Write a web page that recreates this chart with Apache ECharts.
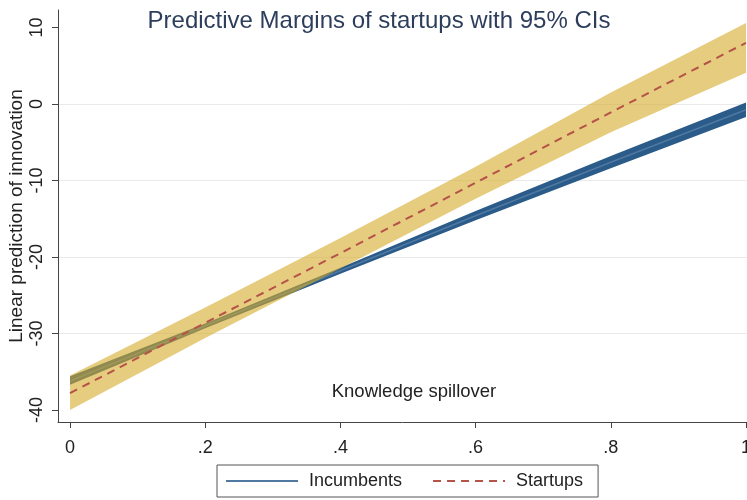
<!DOCTYPE html>
<html>
<head>
<meta charset="utf-8">
<script src="https://cdn.jsdelivr.net/npm/echarts@6/dist/echarts.min.js"></script>
<style>
  html, body { margin: 0; padding: 0; background: #fff; }
  #chart { width: 747px; height: 500px; }
</style>
</head>
<body>
<div id="chart"></div>
<script>
// knowledge spillover values where the margins were evaluated
var xs = [0, 0.2, 0.4, 0.6, 0.8, 1];
var xTicks = [0, 0.2, 0.4, 0.6, 0.8, 1];
var yTicks = [-40, -30, -20, -10, 0, 10];

// startups: prediction + 95% CI
var startups = [-37.8, -28.6, -19.5, -10.3, -1.1, 8.0];
var startupsLo = [-40.0, -30.6, -21.5, -12.4, -3.7, 4.1];
var startupsHi = [-35.5, -26.6, -17.5, -8.2, 1.5, 10.6];

// incumbents: prediction + 95% CI
var incumbents = [-36.2, -29.0, -21.8, -14.6, -7.6, -0.75];
var incumbentsLo = [-36.7, -29.3, -22.2, -15.2, -8.4, -1.7];
var incumbentsHi = [-35.6, -28.7, -21.4, -14.0, -6.8, 0.2];

var FONT = 'Liberation Sans, Arial, sans-serif';

function pairs(vals) {
    return xs.map(function (x, i) { return [x, vals[i]]; });
}

// CI band drawn as one polygon through the axis scales
function band(name, lo, hi, fill, z) {
    return {
        type: 'custom',
        name: name,
        z: z,
        silent: true,
        clip: true,
        data: xs.map(function (x, i) { return [x, lo[i], hi[i]]; }),
        encode: { x: 0, y: [1, 2] },
        renderItem: function (params, api) {
            if (params.dataIndex !== 0) return null;
            var pts = [];
            for (var i = 0; i < xs.length; i++) pts.push(api.coord([xs[i], hi[i]]));
            for (var j = xs.length - 1; j >= 0; j--) pts.push(api.coord([xs[j], lo[j]]));
            return { type: 'polygon', shape: { points: pts }, style: { fill: fill } };
        }
    };
}

var chart = echarts.init(document.getElementById('chart'));
chart.setOption({
    animation: false,
    title: {
        text: 'Predictive Margins of startups with 95% CIs',
        left: 374,
        top: 4,
        textAlign: 'center',
        textStyle: { fontFamily: FONT, fontSize: 24, fontWeight: 'normal', color: '#2d3e5c' }
    },
    graphic: [{
        type: 'text',
        x: 414,
        y: 392,
        style: {
            text: 'Knowledge spillover',
            fontFamily: FONT,
            fontSize: 18.5,
            fill: '#222',
            align: 'center',
            verticalAlign: 'middle'
        }
    }],
    legend: {
        data: ['Incumbents', 'Startups'],
        left: 217,
        top: 465,
        itemWidth: 72,
        itemHeight: 14,
        itemGap: 30,
        padding: [7, 15, 7, 8],
        borderColor: '#555',
        borderWidth: 1,
        borderRadius: 0,
        itemStyle: { opacity: 0 },
        textStyle: { fontFamily: FONT, fontSize: 18, color: '#222', padding: [0, 0, 0, 6] }
    },
    grid: { left: 58, right: 0, top: 10, bottom: 78, outerBoundsMode: 'none', containLabel: false },
    xAxis: {
        type: 'value',
        min: -0.0178,
        max: 1.0015,
        axisLine: { onZero: false, lineStyle: { color: '#444', width: 1 } },
        axisTick: { customValues: xTicks, length: 6, lineStyle: { color: '#444' } },
        axisLabel: {
            customValues: xTicks,
            margin: 17,
            fontFamily: FONT,
            fontSize: 18,
            color: '#222',
            formatter: function (v) {
                if (v === 0) return '0';
                if (v === 1) return '1';
                return String(+v.toFixed(1)).replace('0.', '.');
            }
        },
        splitLine: { show: false }
    },
    yAxis: {
        type: 'value',
        min: -41.57,
        max: 12.29,
        splitNumber: 5,
        name: 'Linear prediction of innovation',
        nameLocation: 'middle',
        nameGap: 32,
        nameMoveOverlap: false,
        nameTextStyle: { fontFamily: FONT, fontSize: 19, color: '#222' },
        axisLine: { show: true, onZero: false, lineStyle: { color: '#444', width: 1 } },
        axisTick: { show: true, customValues: yTicks, length: 6, lineStyle: { color: '#444' } },
        axisLabel: {
            customValues: yTicks,
            rotate: 90,
            margin: 12,
            fontFamily: FONT,
            fontSize: 18,
            color: '#222'
        },
        splitLine: {
            show: true,
            showMinLine: false,
            showMaxLine: false,
            lineStyle: { color: '#eaeaea', width: 1 }
        }
    },
    series: [
        band('Incumbents CI', incumbentsLo, incumbentsHi, '#2b5b88', 2),
        {
            type: 'line',
            name: 'Incumbents',
            z: 3,
            data: pairs(incumbents),
            symbol: 'none',
            color: '#4f78a3',
            lineStyle: { color: '#4f78a3', width: 1.6 }
        },
        band('Startups CI', startupsLo, startupsHi, 'rgba(214,170,40,0.6)', 4),
        {
            type: 'line',
            name: 'Startups',
            z: 5,
            data: pairs(startups),
            symbol: 'none',
            color: '#b5524a',
            lineStyle: { color: '#b5524a', width: 2, type: [8, 6] }
        }
    ]
});
</script>
</body>
</html>
